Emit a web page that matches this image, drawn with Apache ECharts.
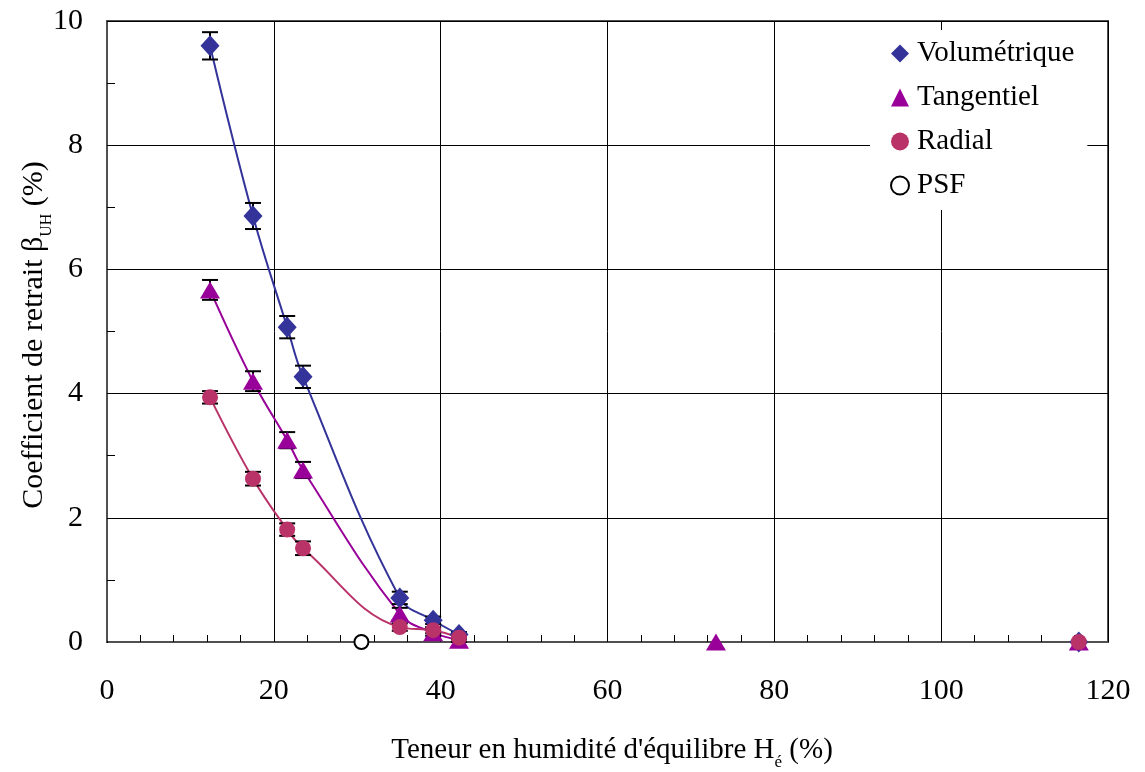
<!DOCTYPE html>
<html>
<head>
<meta charset="utf-8">
<script src="https://cdn.jsdelivr.net/npm/echarts@6/dist/echarts.min.js"></script>
<style>
  html, body { margin: 0; padding: 0; background: #fff; }
  #chart { width: 1145px; height: 772px; }
</style>
</head>
<body>
<div id="chart"></div>
<script>
// Equilibrium moisture content (%) of each measurement step
const humidity = [12.35, 17.5, 21.6, 23.5, 35.1, 39.1, 42.2, 73.0, 116.5];

// Shrinkage coefficients (%), null where no point is drawn
const volumetrique = [9.60, 6.86, 5.07, 4.27, 0.71, 0.35, 0.12, null, 0.0];
const tangentiel   = [5.67, 4.20, 3.25, 2.77, 0.45, 0.15, 0.03, 0.0, 0.0];
const radial       = [3.94, 2.63, 1.81, 1.51, 0.24, 0.19, 0.07, null, 0.0];

// Standard deviations (error bars) for the first measurement steps
const errVolumetrique = [0.22, 0.21, 0.18, 0.18, 0.10, 0.06, 0.04];
const errTangentiel   = [0.16, 0.16, 0.13, 0.13, 0.10, 0.05, 0.03];
const errRadial       = [0.10, 0.11, 0.10, 0.11, 0.06, 0.05, 0.03];

// Fibre saturation point
const psfX = [30.5];
const psfY = [0.0];

// Number of points the fitted curves pass through
const curveCount = 7;

const xTicks = [0, 20, 40, 60, 80, 100, 120];
const yTicks = [0, 2, 4, 6, 8, 10];

const FONT = '"Liberation Serif", "Times New Roman", serif';
const C_VOL = '#333399';
const C_TAN = '#990099';
const C_RAD = '#b93369';

function pairs(xs, ys) {
  return xs.map((x, i) => [x, ys[i]]).filter(p => p[1] !== null && p[1] !== undefined);
}
function curve(xs, ys) {
  return pairs(xs.slice(0, curveCount), ys.slice(0, curveCount));
}
function errData(xs, ys, es) {
  return es.map((e, i) => [xs[i], ys[i] - e, ys[i] + e]);
}

function renderError(params, api) {
  const x = api.value(0);
  const lo = api.coord([x, api.value(1)]);
  const hi = api.coord([x, api.value(2)]);
  const w = 8;
  const st = { stroke: '#000', lineWidth: 2 };
  return {
    type: 'group',
    children: [
      { type: 'line', shape: { x1: lo[0], y1: lo[1], x2: hi[0], y2: hi[1] }, style: st },
      { type: 'line', shape: { x1: lo[0] - w, y1: lo[1], x2: lo[0] + w, y2: lo[1] }, style: st },
      { type: 'line', shape: { x1: hi[0] - w, y1: hi[1], x2: hi[0] + w, y2: hi[1] }, style: st }
    ]
  };
}

const chart = echarts.init(document.getElementById('chart'), null, { renderer: 'canvas' });

function lineSeries(name, ys, color) {
  return {
    name: name, type: 'line', data: curve(humidity, ys),
    smooth: 0.4, showSymbol: false, symbol: 'none',
    lineStyle: { color: color, width: 2 }, z: 2, silent: true
  };
}
function errSeries(name, ys, es) {
  return {
    name: name, type: 'custom', renderItem: renderError,
    data: errData(humidity, ys, es), z: 3, silent: true
  };
}

chart.setOption({
  animation: false,
  backgroundColor: '#fff',
  textStyle: { fontFamily: FONT, color: '#000' },
  grid: {
    left: 107, right: 37, top: 21, bottom: 130,
    show: true, borderColor: '#505050', borderWidth: 2, backgroundColor: 'transparent'
  },
  xAxis: {
    type: 'value', min: xTicks[0], max: xTicks[xTicks.length - 1], interval: 20,
    axisLine: { show: true, onZero: false, lineStyle: { color: '#505050', width: 2 } },
    axisTick: { show: true, inside: true, length: 1, lineStyle: { color: '#000' } },
    minorTick: { show: true, splitNumber: 5, length: 7, lineStyle: { color: '#000', width: 1 } },
    splitLine: { show: true, lineStyle: { color: '#000', width: 1 } },
    axisLabel: { fontFamily: FONT, fontSize: 30, color: '#000', margin: 34 }
  },
  yAxis: {
    type: 'value', min: yTicks[0], max: yTicks[yTicks.length - 1], interval: 2,
    axisLine: { show: true, onZero: false, lineStyle: { color: '#505050', width: 2 } },
    axisTick: { show: true, inside: true, length: 1, lineStyle: { color: '#000' } },
    minorTick: { show: true, splitNumber: 2, length: 8, lineStyle: { color: '#000', width: 1 } },
    splitLine: { show: true, lineStyle: { color: '#000', width: 1 } },
    axisLabel: { fontFamily: FONT, fontSize: 30, color: '#000', margin: 24 }
  },
  legend: {
    orient: 'vertical', left: 870, top: 30,
    backgroundColor: '#fff', padding: [9, 13, 10, 20],
    itemGap: 15, itemWidth: 18, itemHeight: 18,
    textStyle: { fontFamily: FONT, fontSize: 29, color: '#000', padding: [0, 0, 0, 3] },
    selectedMode: false,
    data: [
      { name: 'Volumétrique', icon: 'diamond', itemStyle: { color: C_VOL } },
      { name: 'Tangentiel', icon: 'triangle', itemStyle: { color: C_TAN } },
      { name: 'Radial', icon: 'circle', itemStyle: { color: C_RAD } },
      { name: 'PSF', icon: 'circle', itemStyle: { color: '#fff', borderColor: '#000', borderWidth: 2 } }
    ]
  },
  graphic: [
    {
      type: 'text', x: 612, y: 748,
      style: {
        text: '{m|Teneur en humidité d\'équilibre H}{s|é}{m| (%)}',
        align: 'center', verticalAlign: 'middle',
        rich: {
          m: { fontFamily: FONT, fontSize: 29, fill: '#000', lineHeight: 34, verticalAlign: 'bottom' },
          s: { fontFamily: FONT, fontSize: 17, fill: '#000', lineHeight: 34, verticalAlign: 'bottom', padding: [0, 0, -6, 0] }
        }
      }
    },
    {
      type: 'text', x: 32, y: 335, rotation: Math.PI / 2,
      style: {
        text: '{m|Coefficient de retrait β}{s|UH}{m| (%)}',
        align: 'center', verticalAlign: 'middle',
        rich: {
          m: { fontFamily: FONT, fontSize: 30, fill: '#000', lineHeight: 34, verticalAlign: 'bottom' },
          s: { fontFamily: FONT, fontSize: 16, fill: '#000', lineHeight: 34, verticalAlign: 'bottom', padding: [0, 0, -6, 0] }
        }
      }
    }
  ],
  series: [
    lineSeries('courbe-vol', volumetrique, C_VOL),
    lineSeries('courbe-tan', tangentiel, C_TAN),
    lineSeries('courbe-rad', radial, C_RAD),
    errSeries('err-vol', volumetrique, errVolumetrique),
    errSeries('err-tan', tangentiel, errTangentiel),
    errSeries('err-rad', radial, errRadial),
    {
      name: 'Volumétrique', type: 'scatter', data: pairs(humidity, volumetrique),
      symbol: 'diamond', symbolSize: [19, 21], itemStyle: { color: C_VOL, opacity: 1 }, z: 4
    },
    {
      name: 'Tangentiel', type: 'scatter', data: pairs(humidity, tangentiel),
      symbol: 'triangle', symbolSize: [20, 17], itemStyle: { color: C_TAN, opacity: 1 }, z: 5
    },
    {
      name: 'Radial', type: 'scatter', data: pairs(humidity, radial),
      symbol: 'circle', symbolSize: 16, itemStyle: { color: C_RAD, opacity: 1 }, z: 6
    },
    {
      name: 'PSF', type: 'scatter', data: pairs(psfX, psfY),
      symbol: 'circle', symbolSize: 14,
      itemStyle: { color: '#fff', borderColor: '#000', borderWidth: 2, opacity: 1 }, z: 6
    }
  ]
});
</script>
</body>
</html>
